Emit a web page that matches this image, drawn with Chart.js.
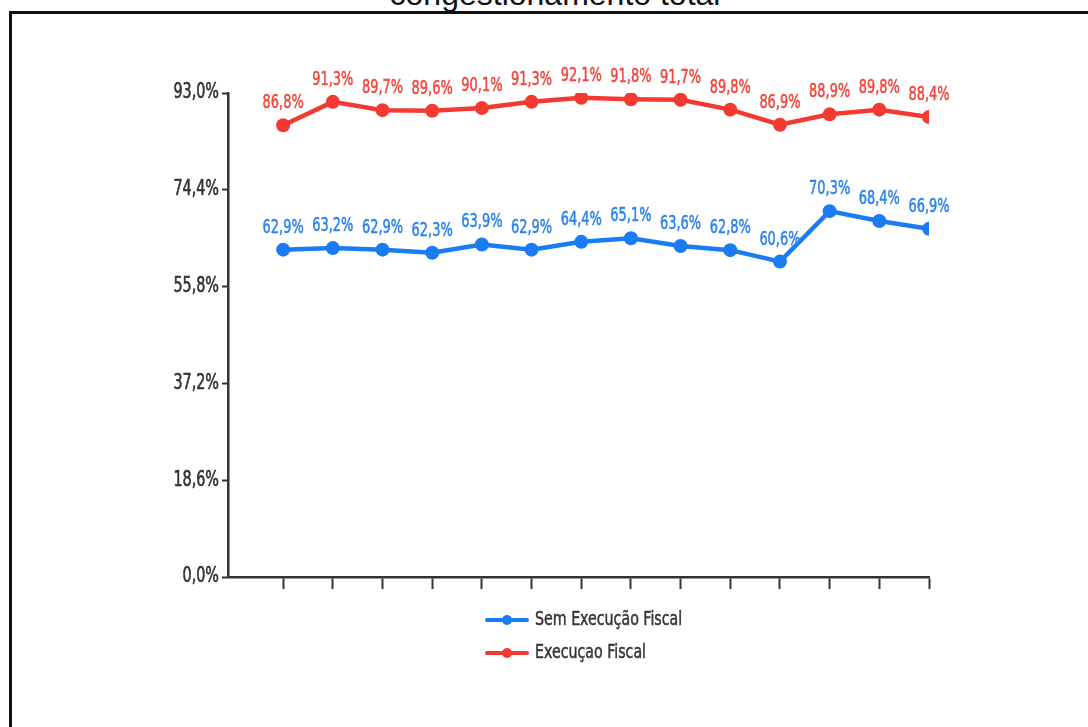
<!DOCTYPE html>
<html lang="pt-BR">
<head>
<meta charset="utf-8">
<title>Taxa de congestionamento total</title>
<script src="https://cdn.jsdelivr.net/npm/chart.js@4"></script>
<style>
  html, body { margin: 0; padding: 0; background: #ffffff; overflow: hidden; }
  body { width: 1088px; height: 727px; position: relative; }
  #frame {
    position: absolute; left: 9px; top: 11px; width: 1200px; height: 800px;
    border: 3px solid #111111; box-sizing: border-box;
  }
  #title {
    position: absolute; left: 0; width: 1110px; top: -22px;
    text-align: center; white-space: nowrap;
    font: 32px/32px "Liberation Sans", Arial, sans-serif; color: #111111;
  }
  #chart { position: absolute; left: 0; top: 0; }
</style>
</head>
<body>
<div id="title">congestionamento total</div>
<div id="frame"></div>
<canvas id="chart" width="1088" height="727"></canvas>
<script>
// Series shown on the chart (percent), one value per period
const periods = [0, 1, 2, 3, 4, 5, 6, 7, 8, 9, 10, 11, 12, 13];
const semExecucaoFiscal = [62.9, 63.2, 62.9, 62.3, 63.9, 62.9, 64.4, 65.1, 63.6, 62.8, 60.6, 70.3, 68.4, 66.9];
const execucaoFiscal    = [86.8, 91.3, 89.7, 89.6, 90.1, 91.3, 92.1, 91.8, 91.7, 89.8, 86.9, 88.9, 89.8, 88.4];
const seriesNames = ['Sem Execução Fiscal', 'Execuçao Fiscal'];
const yTickValues = [0, 18.6, 37.2, 55.8, 74.4, 93.0];
const yTickLabels = ['0,0%', '18,6%', '37,2%', '55,8%', '74,4%', '93,0%'];

const BLUE = '#1a7cf2';
const RED = '#f43a30';
const NARROW = '"DejaVu Sans Condensed", "DejaVu Sans", sans-serif';
// horizontal squeeze applied to chart text for a narrow look
const SQUEEZE = 0.72;

const pct = v => v.toFixed(1).replace('.', ',') + '%';

// draw text squeezed horizontally around its anchor x, slightly emboldened
function squeezedText(ctx, text, x, y, s, weight) {
  ctx.save();
  ctx.translate(x, y);
  ctx.scale(s, 1);
  ctx.fillText(text, 0, 0);
  if (weight) {
    ctx.lineWidth = weight;
    ctx.strokeStyle = ctx.fillStyle;
    ctx.strokeText(text, 0, 0);
  }
  ctx.restore();
}

// Value labels above each point
const valueLabels = {
  id: 'valueLabels',
  afterDatasetsDraw(chart) {
    const ctx = chart.ctx;
    ctx.save();
    ctx.font = '20px ' + NARROW;
    ctx.textAlign = 'center';
    ctx.textBaseline = 'alphabetic';
    chart.data.datasets.forEach((ds, i) => {
      const meta = chart.getDatasetMeta(i);
      ctx.fillStyle = ds.labelColor;
      meta.data.forEach((pt, j) => {
        squeezedText(ctx, pct(ds.data[j].y), pt.x, pt.y - 17, SQUEEZE, 0.5);
      });
    });
    ctx.restore();
  }
};

// Stacked legend below the plot: line sample with a dot, then the series name
const stackedLegend = {
  id: 'stackedLegend',
  afterDraw(chart) {
    const ctx = chart.ctx;
    const area = chart.chartArea;
    const x0 = area.left + 259;
    const y0 = area.bottom + 43;
    const rowGap = 33;
    ctx.save();
    ctx.font = '20px ' + NARROW;
    ctx.textBaseline = 'middle';
    ctx.textAlign = 'left';
    chart.data.datasets.forEach((ds, i) => {
      const y = y0 + i * rowGap;
      ctx.strokeStyle = ds.borderColor;
      ctx.lineWidth = 4;
      ctx.lineCap = 'round';
      ctx.beginPath();
      ctx.moveTo(x0, y);
      ctx.lineTo(x0 + 40, y);
      ctx.stroke();
      ctx.fillStyle = ds.borderColor;
      ctx.beginPath();
      ctx.arc(x0 + 20, y, 5, 0, Math.PI * 2);
      ctx.fill();
      ctx.fillStyle = '#363636';
      squeezedText(ctx, ds.label, x0 + 48, y, 0.79, 0.5);
    });
    ctx.restore();
  }
};

// Squeeze the y-axis tick labels the same way, anchored at their right edge
const narrowYTicks = {
  id: 'narrowYTicks',
  afterLayout(chart) {
    const scale = chart.scales.y;
    if (!scale || scale._narrowed) return;
    const base = scale.drawLabels.bind(scale);
    scale.drawLabels = function (area) {
      const ctx = this.ctx;
      const anchor = this.right - this.options.grid.tickLength - this.options.ticks.padding;
      ctx.save();
      ctx.translate(anchor, 0);
      ctx.scale(0.76, 1);
      ctx.translate(-anchor, 0);
      base(area);
      ctx.restore();
    };
    scale._narrowed = true;
  }
};

const toPoints = vals => vals.map((v, i) => ({ x: periods[i], y: v }));

new Chart(document.getElementById('chart'), {
  type: 'line',
  data: {
    datasets: [
      {
        label: seriesNames[0],
        data: toPoints(semExecucaoFiscal),
        borderColor: BLUE,
        backgroundColor: BLUE,
        labelColor: '#2a83ee',
        borderWidth: 4.5,
        pointRadius: 7,
        pointBorderWidth: 0,
        pointBackgroundColor: BLUE,
        tension: 0
      },
      {
        label: seriesNames[1],
        data: toPoints(execucaoFiscal),
        borderColor: RED,
        backgroundColor: RED,
        labelColor: '#f2463c',
        borderWidth: 4.5,
        pointRadius: 7,
        pointBorderWidth: 0,
        pointBackgroundColor: RED,
        tension: 0
      }
    ]
  },
  options: {
    responsive: false,
    animation: false,
    layout: { padding: { left: 0, right: 159, top: 93, bottom: 138 } },
    plugins: {
      legend: { display: false },
      tooltip: { enabled: false },
      title: { display: false }
    },
    scales: {
      x: {
        type: 'linear',
        min: -1.11,
        max: 13,
        afterBuildTicks(scale) {
          scale.ticks = periods.map(p => ({ value: p }));
        },
        afterFit(scale) { scale.height = 12; },
        ticks: { display: false },
        grid: {
          drawOnChartArea: false,
          drawTicks: true,
          tickLength: 12,
          tickColor: '#333333',
          tickWidth: 2
        },
        border: { display: true, color: '#333333', width: 2.5 }
      },
      y: {
        min: 0,
        max: 93,
        afterBuildTicks(scale) {
          scale.ticks = yTickValues.map(v => ({ value: v }));
        },
        afterFit(scale) { scale.width = 228; },
        ticks: {
          padding: 3,
          color: '#333333',
          textStrokeColor: '#333333',
          textStrokeWidth: 0.6,
          font: { family: NARROW, size: 21 },
          callback: (v, i) => yTickLabels[i]
        },
        grid: {
          drawOnChartArea: false,
          drawTicks: true,
          tickLength: 6,
          tickColor: '#333333',
          tickWidth: 2
        },
        border: { display: true, color: '#333333', width: 2.5 }
      }
    }
  },
  plugins: [narrowYTicks, valueLabels, stackedLegend]
});
</script>
</body>
</html>
